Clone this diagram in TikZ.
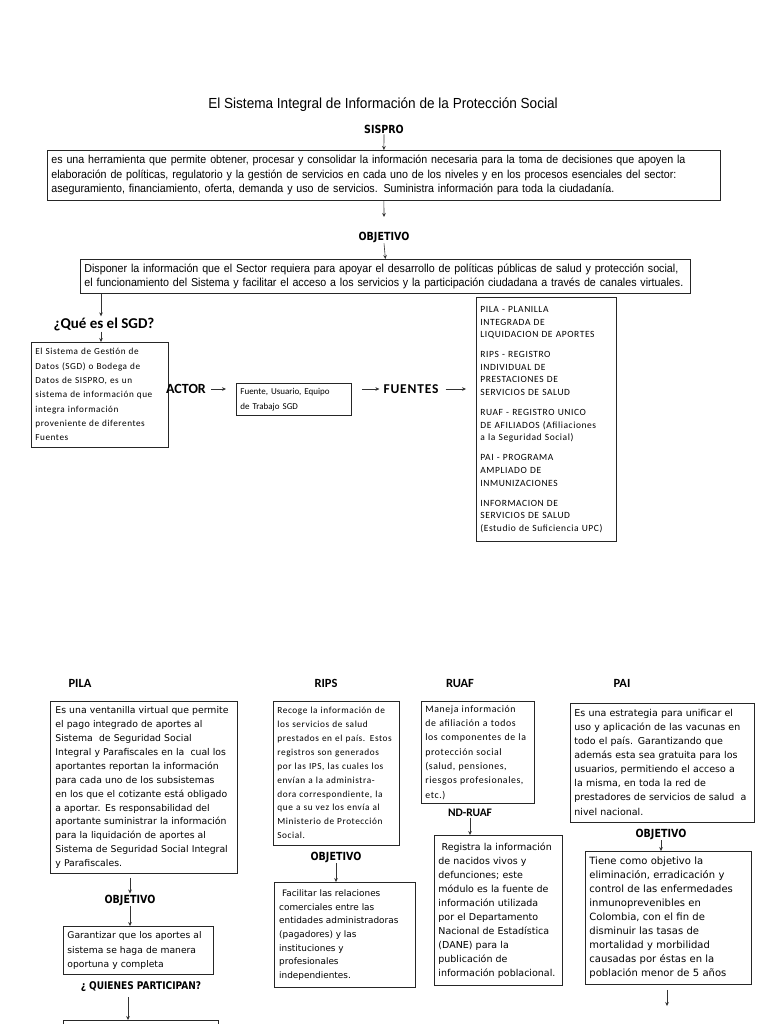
\documentclass[tikz,border=0pt]{standalone}
\usepackage{fontspec}
\setmainfont{DejaVu Sans}
\newfontfamily\narrowf[FakeStretch=0.93]{Liberation Sans}
\newfontfamily\verdf{DejaVu Sans}
\newfontfamily\calf{Carlito}
\newfontfamily\calsp[LetterSpace=6]{Carlito}
\newfontfamily\labf[FakeStretch=0.85]{DejaVu Sans}
\newcommand\lns[1]{\begin{tabular}{@{}l@{}}#1\end{tabular}}
\usetikzlibrary{arrows.meta}
\tikzset{
  bx/.style={draw=black!85, line width=0.8pt, anchor=north west, align=left, inner xsep=4pt, inner ysep=0pt},
  arr/.style={draw=black!80, line width=0.6pt, -{Stealth[length=4pt,width=3.6pt]}},
  lab/.style={font=\labf\bfseries\fontsize{11.2}{13}\selectfont, inner sep=1pt},
  clab/.style={font=\calf\bfseries\fontsize{12.5}{14}\selectfont, inner sep=1pt},
  nartxt/.style={font=\narrowf\fontsize{11.5}{14.5}\selectfont},
}
\begin{document}
\begin{tikzpicture}[x=1pt,y=-1pt]
\useasboundingbox (0,0) rectangle (768,1024);
\fill[white] (0,0) rectangle (768,1024);

% ---------- top ----------
\node[font=\narrowf\fontsize{14.6}{16}\selectfont] (title) at (383,105) {El Sistema Integral de Información de la Protección Social};
\node[lab] (sispro) at (384,129) {SISPRO};
\node[bx, nartxt, minimum width=673, minimum height=50, text width=665pt] (box1) at (47,150)
 {\lns{es una herramienta que permite obtener, procesar y consolidar la información necesaria para la toma de decisiones que apoyen la\\
  elaboración de políticas, regulatorio y la gestión de servicios en cada uno de los niveles y en los procesos esenciales del sector:\\
  aseguramiento, financiamiento, oferta, demanda y uso de servicios. Suministra información para toda la ciudadanía.}};
\draw[arr] (sispro.south) -- (box1.north);
\coordinate (a1) at (384,217);
\draw[arr] (box1.south) -- (a1);

\node[lab] (obj1) at (384,237) {OBJETIVO};
\node[bx, nartxt, minimum width=610, minimum height=34, text width=602pt] (box2) at (80,259)
 {\lns{Disponer la información que el Sector requiera para apoyar el desarrollo de políticas públicas de salud y protección social,\\
  el funcionamiento del Sistema y facilitar el acceso a los servicios y la participación ciudadana a través de canales virtuales.}};
\draw[arr] (obj1.south) -- (box2.north);

\node[clab, font=\calf\bfseries\fontsize{15}{17}\selectfont] (qsgd) at (104,324) {¿Qué es el SGD?};
\draw[arr] (box2.south west -| 101,0) -- (qsgd.north -| 101,0);
\node[bx, font=\calsp\fontsize{9.2}{14.3}\selectfont, minimum width=137, minimum height=105, text width=129pt] (sgd) at (31,342)
 {\lns{El Sistema de Gestión de\\ Datos (SGD) o Bodega de\\ Datos de SISPRO, es un\\ sistema de información que\\ integra información\\ proveniente de diferentes\\ Fuentes}};
\draw[arr] (qsgd.south -| 101,0) -- (sgd.north -| 101,0);

\node[clab, font=\calf\bfseries\fontsize{14}{16}\selectfont] (actor) at (186,389) {ACTOR};
\node[bx, font=\calf\fontsize{9}{15}\selectfont, minimum width=115, minimum height=32, text width=107pt] (actbox) at (236,383)
 {\lns{Fuente, Usuario, Equipo\\ de Trabajo SGD}};
\draw[arr, shorten <=4pt, shorten >=10pt] (actor.east) -- (actbox.west |- actor.east);
\node[clab, font=\calsp\bfseries\fontsize{13.5}{16}\selectfont] (fuentes) at (411,389) {FUENTES};
\draw[arr, shorten <=10pt, shorten >=3pt] (actbox.east |- fuentes.west) -- (fuentes.west);

\node[bx, font=\calsp\fontsize{9.5}{12.6}\selectfont, minimum width=140, minimum height=244, text width=132pt] (fbox) at (476,297)
 {\lns{PILA - PLANILLA\\ INTEGRADA DE\\ LIQUIDACION DE APORTES\\[7.5pt]
  RIPS - REGISTRO\\ INDIVIDUAL DE\\ PRESTACIONES DE\\ SERVICIOS DE SALUD\\[7.5pt]
  RUAF - REGISTRO UNICO\\ DE AFILIADOS (Afiliaciones\\ a la Seguridad Social)\\[7.5pt]
  PAI - PROGRAMA\\ AMPLIADO DE\\ INMUNIZACIONES\\[7.5pt]
  INFORMACION DE\\ SERVICIOS DE SALUD\\ (Estudio de Suficiencia UPC)}};
\draw[arr, shorten <=6pt, shorten >=10pt] (fuentes.east) -- (fbox.west |- fuentes.east);

% ---------- bottom: PILA ----------
\node[clab] (lpila) at (80,683) {PILA};
\node[bx, inner xsep=5pt, font=\verdf\fontsize{9.3}{13.9}\selectfont, minimum width=187, minimum height=172, text width=177pt] (pila) at (50,701)
 {\lns{Es una ventanilla virtual que permite\\ el pago integrado de aportes al\\ Sistema\ \ de Seguridad Social\\ Integral y Parafiscales en la\ \ cual los\\ aportantes reportan la información\\ para cada uno de los subsistemas\\ en los que el cotizante está obligado\\ a aportar. Es responsabilidad del\\ aportante suministrar la información\\ para la liquidación de aportes al\\ Sistema de Seguridad Social Integral\\ y Parafiscales.}};
\node[lab] (objpila) at (130,900) {OBJETIVO};
\draw[arr, shorten <=4pt] (pila.south -| objpila.north) -- (objpila.north);
\node[bx, font=\verdf\fontsize{9.2}{14.5}\selectfont, minimum width=150, minimum height=48, text width=142pt] (pilaobj) at (63,926)
 {\lns{Garantizar que los aportes al\\ sistema se haga de manera\\ oportuna y completa}};
\draw[arr] (objpila.south) -- (pilaobj.north -| objpila.south);
\node[lab, font=\labf\bfseries\fontsize{10.6}{13}\selectfont] (quien) at (141,987) {¿ QUIENES PARTICIPAN?};
\node[bx, minimum width=155, minimum height=30] (partbox) at (63,1020) {};
\draw[arr] (quien.south -| 128,0) ++(0,4) -- (partbox.north -| 128,0);

% ---------- RIPS ----------
\node[clab] (lrips) at (326,683) {RIPS};
\node[bx, font=\calsp\fontsize{9.3}{13.9}\selectfont, minimum width=126, minimum height=144, text width=118pt] (rips) at (273,701)
 {\lns{Recoge la información de\\ los servicios de salud\\ prestados en el país. Estos\\ registros son generados\\ por las IPS, las cuales los\\ envían a la administra-\\ dora correspondiente, la\\ que a su vez los envía al\\ Ministerio de Protección\\ Social.}};
\node[lab] (objrips) at (336,857) {OBJETIVO};
\node[bx, minimum width=141, minimum height=105] (ripsobj) at (274,882) {};
\node[anchor=north west, align=left, inner sep=0pt, font=\verdf\fontsize{8.9}{13.6}\selectfont] (ripsobjtxt) at (279,887)
 {\lns{\ Facilitar las relaciones\\ comerciales entre las\\ entidades administradoras\\ (pagadores) y las\\ instituciones y\\ profesionales\\ independientes.}};
\draw[arr] (objrips.south) -- (ripsobj.north -| objrips.south);

% ---------- RUAF ----------
\node[clab] (lruaf) at (460,683) {RUAF};
\node[bx, font=\calsp\fontsize{9.8}{14.3}\selectfont, minimum width=113, minimum height=102, text width=105pt] (ruaf) at (421,701)
 {\lns{Maneja información\\ de afiliación a todos\\ los componentes de la\\ protección social\\ (salud, pensiones,\\ riesgos profesionales,\\ etc.)}};
\node[clab, font=\calf\bfseries\fontsize{11.5}{13}\selectfont] (lnd) at (470,813) {ND-RUAF};
\node[bx, font=\verdf\fontsize{9.5}{14}\selectfont, minimum width=128, minimum height=150, text width=120pt] (nd) at (434,835)
 {\lns{\ Registra la información\\ de nacidos vivos y\\ defunciones; este\\ módulo es la fuente de\\ información utilizada\\ por el Departamento\\ Nacional de Estadística\\ (DANE) para la\\ publicación de\\ información poblacional.}};
\draw[arr] (lnd.south) -- (nd.north -| lnd.south);

% ---------- PAI ----------
\node[clab] (lpai) at (622,683) {PAI};
\node[bx, font=\verdf\fontsize{9.5}{14.1}\selectfont, minimum width=184, minimum height=119, text width=176pt] (pai) at (570,703)
 {\lns{Es una estrategia para unificar el\\ uso y aplicación de las vacunas en\\ todo el país. Garantizando que\\ además esta sea gratuita para los\\ usuarios, permitiendo el acceso a\\ la misma, en toda la red de\\ prestadores de servicios de salud\ \ a\\ nivel nacional.}};
\node[lab] (objpai) at (661,834) {OBJETIVO};
\node[bx, font=\verdf\fontsize{10}{14}\selectfont, minimum width=166, minimum height=133, text width=158pt] (paiobj) at (585,851)
 {\lns{Tiene como objetivo la\\ eliminación, erradicación y\\ control de las enfermedades\\ inmunoprevenibles en\\ Colombia, con el fin de\\ disminuir las tasas de\\ mortalidad y morbilidad\\ causadas por éstas en la\\ población menor de 5 años}};
\draw[arr] (objpai.south) -- (paiobj.north -| objpai.south);
\coordinate (paiend) at (667,1006);
\draw[arr, shorten <=5pt] (paiobj.south -| paiend) -- (paiend);
\end{tikzpicture}
\end{document}
